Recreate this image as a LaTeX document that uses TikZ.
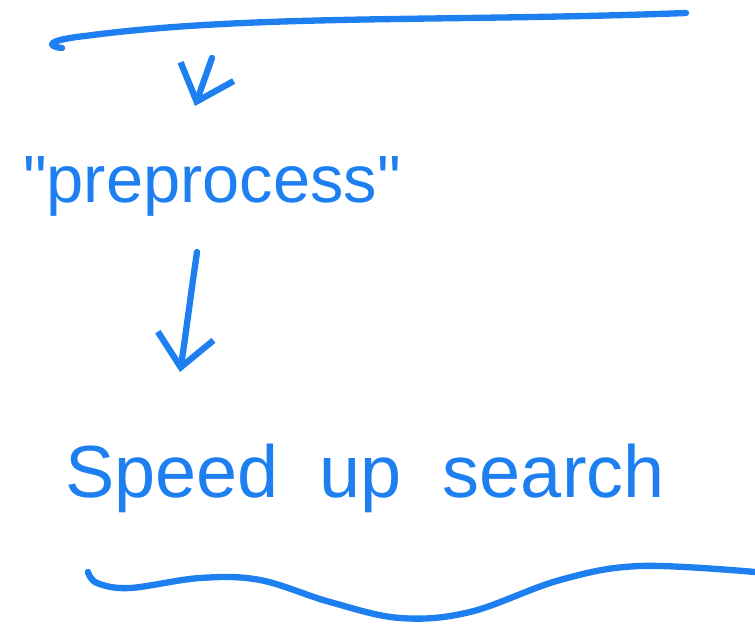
\documentclass[tikz,border=0pt]{standalone}
\usepackage{fontspec}
\setmainfont{Liberation Sans}
\usetikzlibrary{arrows.meta}
\definecolor{ink}{RGB}{30,128,240}

\begin{document}
\begin{tikzpicture}[x=0.01cm,y=-0.01cm,
  pen/.style={draw=ink,line width=1.8pt,line cap=round,line join=round},
  arr/.style={pen,-{Straight Barb[length=9pt,width=16pt,line width=1.8pt]}},
  word/.style={text=ink,inner sep=0pt}]
  \useasboundingbox (0,0) rectangle (755,628);
  % wavy rule on top
  \draw[pen] (62,48) .. controls (45,46) and (48,40) .. (85,36)
    .. controls (250,14) and (450,22) .. (686,13);
  % the two labels
  \node[word,font=\fontsize{19}{22}\selectfont] (pre) at (212,186)
    {\textquotedbl preprocess\textquotedbl};
  \node[word,font=\fontsize{21}{24}\selectfont] (speed) at (365,478) {Speed\ \ up\ \ search};
  % arrows
  \coordinate (a1s) at (212,58);
  \coordinate (a1e) at (195,106);
  \coordinate (a2s) at (197,252);
  \coordinate (a2e) at (180,372);
  \draw[arr] (a1s) -- (a1e);
  \draw[arr] (a2s) .. controls (190,300) and (185,340) .. (a2e);
  % wavy rule at the bottom
  \draw[pen] plot[smooth,tension=0.6] coordinates {(88,572) (97,583) (130,588)
    (200,578) (260,580) (330,602) (400,618) (470,612) (560,580) (640,566) (755,572)};
\end{tikzpicture}
\end{document}
